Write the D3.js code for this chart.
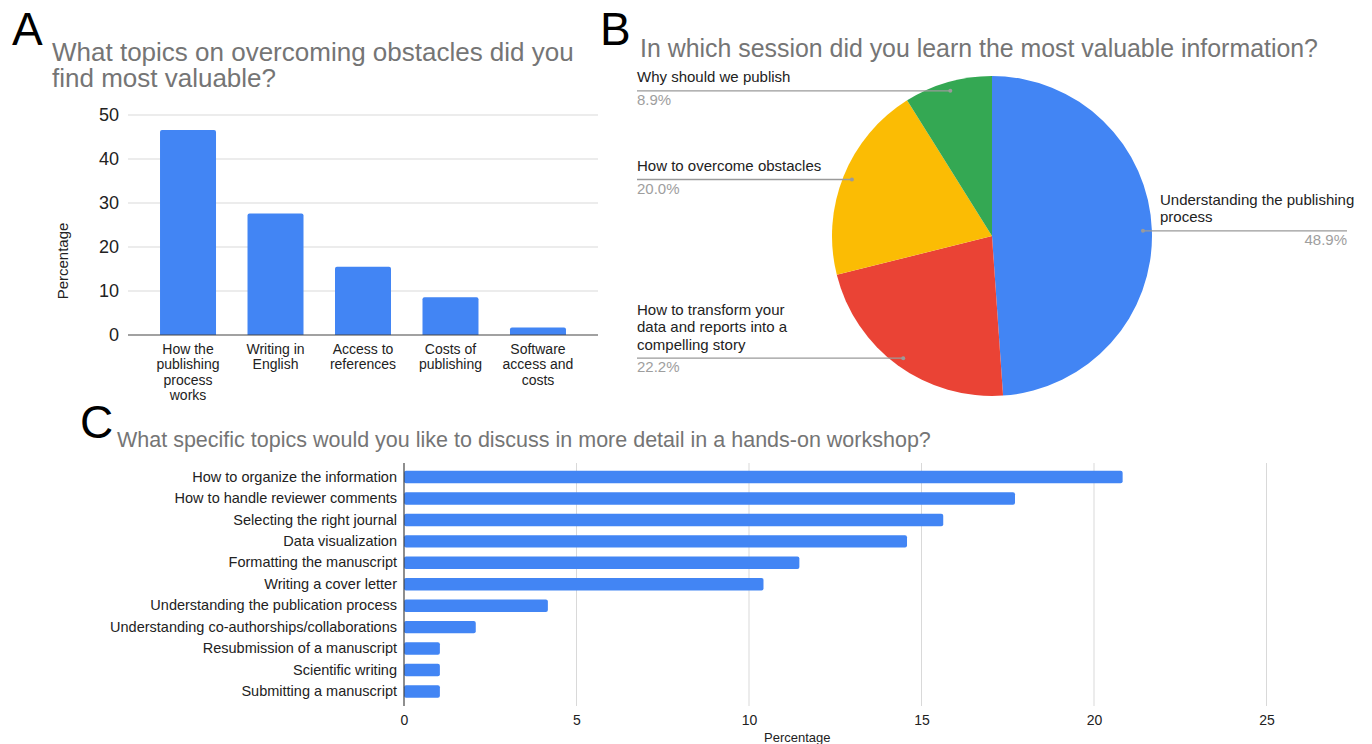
<!DOCTYPE html>
<html>
<head>
<meta charset="utf-8">
<script src="https://cdn.jsdelivr.net/npm/d3@7"></script>
<style>
  body { margin: 0; background: #fff; }
  svg { display: block; }
  text { font-family: Arial, "Liberation Sans", Helvetica, sans-serif; }
</style>
</head>
<body>
<svg id="fig" width="1372" height="744"></svg>
<script>
// ---- Panel A: obstacle topics (percentage of respondents)
const obstacleTopics = ["How the publishing process works", "Writing in English", "Access to references", "Costs of publishing", "Software access and costs"];
const obstacleLabelLines = [["How the", "publishing", "process", "works"], ["Writing in", "English"], ["Access to", "references"], ["Costs of", "publishing"], ["Software", "access and", "costs"]];
const obstaclePct = [46.6, 27.6, 15.5, 8.6, 1.7];
const obstacleTicks = [0, 10, 20, 30, 40, 50];

// ---- Panel B: most valuable session
const sessionNames = ["Understanding the publishing process", "How to transform your data and reports into a compelling story", "How to overcome obstacles", "Why should we publish"];
const sessionLabelLines = [["Understanding the publishing", "process"], ["How to transform your", "data and reports into a", "compelling story"], ["How to overcome obstacles"], ["Why should we publish"]];
const sessionPct = [48.9, 22.2, 20.0, 8.9];
const sessionColors = ["#4285F4", "#EA4335", "#FBBC04", "#34A853"];

// ---- Panel C: workshop topics
const workshopTopics = ["How to organize the information", "How to handle reviewer comments", "Selecting the right journal", "Data visualization", "Formatting the manuscript", "Writing a cover letter", "Understanding the publication process", "Understanding co-authorships/collaborations", "Resubmission of a manuscript", "Scientific writing", "Submitting a manuscript"];
const workshopPct = [20.83, 17.71, 15.63, 14.58, 11.46, 10.42, 4.17, 2.08, 1.04, 1.04, 1.04];
const workshopTicks = [0, 5, 10, 15, 20, 25];

const BLUE = "#4285F4";
const TITLE = "#757575";
const INK = "#222";
const GRID = "#d9d9d9";

const svg = d3.select("#fig");

// panel letters
[["A", 12, 45], ["B", 600, 45], ["C", 80, 438]].forEach(([t, x, y]) => {
  svg.append("text").attr("x", x).attr("y", y).attr("font-size", 46).attr("fill", "#000").text(t);
});

// ================= Panel A =================
{
  const g = svg.append("g");
  g.append("text").attr("x", 52).attr("y", 61).attr("font-size", 26).attr("fill", TITLE)
    .selectAll("tspan").data(["What topics on overcoming obstacles did you", "find most valuable?"]).join("tspan")
    .attr("x", 52).attr("dy", (d, i) => i ? 26 : 0).text(d => d);

  const x = d3.scaleBand().domain(obstacleTopics).range([128, 598]).paddingInner(0.36).paddingOuter(0.366);
  const y = d3.scaleLinear().domain([0, 50]).range([335, 115]);

  // gridlines
  g.append("g").selectAll("line").data(obstacleTicks.filter(t => t > 0)).join("line")
    .attr("x1", 128).attr("x2", 598).attr("y1", d => y(d)).attr("y2", d => y(d))
    .attr("stroke", GRID).attr("stroke-width", 1);

  // y axis labels
  const yAxis = d3.axisLeft(y).tickValues(obstacleTicks).tickSize(0).tickPadding(9);
  const ya = g.append("g").attr("transform", "translate(128,0)").call(yAxis);
  ya.select(".domain").remove();
  ya.selectAll("text").attr("font-size", 18).attr("fill", INK).attr("font-family", null);

  // bars
  g.append("g").selectAll("path").data(obstaclePct).join("path")
    .attr("fill", BLUE)
    .attr("d", (d, i) => {
      const x0 = x(obstacleTopics[i]), w = x.bandwidth(), y0 = y(d), y1 = y(0), r = 2;
      return `M${x0},${y1}V${y0 + r}Q${x0},${y0} ${x0 + r},${y0}H${x0 + w - r}Q${x0 + w},${y0} ${x0 + w},${y0 + r}V${y1}Z`;
    });

  // baseline
  g.append("line").attr("x1", 128).attr("x2", 598).attr("y1", y(0)).attr("y2", y(0))
    .attr("stroke", "#444").attr("stroke-width", 1.2);

  // category labels
  g.append("g").selectAll("text").data(obstacleTopics).join("text")
    .attr("text-anchor", "middle").attr("font-size", 14).attr("fill", INK)
    .each(function (d, i) {
      d3.select(this).selectAll("tspan").data(obstacleLabelLines[i]).join("tspan")
        .attr("x", x(d) + x.bandwidth() / 2).attr("y", (t, j) => 354 + j * 15.3).text(t => t);
    });

  g.append("text").attr("transform", "translate(68,261) rotate(-90)")
    .attr("text-anchor", "middle").attr("font-size", 15).attr("fill", INK).text("Percentage");
}

// ================= Panel B =================
{
  const g = svg.append("g");
  g.append("text").attr("x", 640).attr("y", 57).attr("font-size", 24.9).attr("fill", TITLE)
    .text("In which session did you learn the most valuable information?");

  const cx = 992, cy = 236, R = 160;
  const pie = d3.pie().sort(null).value(d => d)(sessionPct);
  const arc = d3.arc().innerRadius(0).outerRadius(R);
  const pg = g.append("g").attr("transform", `translate(${cx},${cy})`);
  pg.selectAll("path").data(pie).join("path").attr("d", arc).attr("fill", (d, i) => sessionColors[i]);

  const leftX = cx - R - 195, rightText = cx + R + 8, rightEnd = 1347;
  pie.forEach((p, i) => {
    const a = (p.startAngle + p.endAngle) / 2;
    const dx = cx + Math.sin(a) * R * 0.944;
    const dy = cy - Math.cos(a) * R * 0.944;
    const right = Math.sin(a) > 0;
    const lines = sessionLabelLines[i];
    g.append("line").attr("x1", dx).attr("y1", dy)
      .attr("x2", right ? rightEnd : leftX).attr("y2", dy)
      .attr("stroke", "#9a9a9a").attr("stroke-width", 1.3);
    g.append("circle").attr("cx", dx).attr("cy", dy).attr("r", 2).attr("fill", "#9a9a9a");
    const tx = right ? rightText : leftX;
    const t = g.append("text").attr("font-size", 15).attr("fill", INK);
    t.selectAll("tspan").data(lines).join("tspan")
      .attr("x", tx).attr("y", (s, j) => dy - 8.5 - (lines.length - 1 - j) * 17.5).text(s => s);
    g.append("text").attr("x", right ? rightEnd : leftX).attr("y", dy + 14)
      .attr("text-anchor", right ? "end" : "start")
      .attr("font-size", 15).attr("fill", "#9e9e9e")
      .text(d3.format(".1f")(sessionPct[i]) + "%");
  });
}

// ================= Panel C =================
{
  const g = svg.append("g");
  g.append("text").attr("x", 117).attr("y", 447).attr("font-size", 21.5).attr("fill", TITLE)
    .text("What specific topics would you like to discuss in more detail in a hands-on workshop?");

  const top = 463, bottom = 706;
  const x = d3.scaleLinear().domain([0, 25]).range([404, 1266.5]);
  const y = d3.scaleBand().domain(workshopTopics).range([466.3, 702.2]).paddingInner(0.42).paddingOuter(0.21);

  g.append("g").selectAll("line").data(workshopTicks.filter(t => t > 0)).join("line")
    .attr("x1", d => x(d)).attr("x2", d => x(d)).attr("y1", top).attr("y2", bottom)
    .attr("stroke", GRID).attr("stroke-width", 1);

  g.append("g").selectAll("rect").data(workshopPct).join("rect")
    .attr("x", x(0)).attr("y", (d, i) => y(workshopTopics[i]))
    .attr("width", d => x(d) - x(0)).attr("height", y.bandwidth())
    .attr("rx", 2).attr("fill", BLUE);

  g.append("line").attr("x1", x(0)).attr("x2", x(0)).attr("y1", top).attr("y2", bottom)
    .attr("stroke", "#444").attr("stroke-width", 1.2);

  const yAxis = d3.axisLeft(y).tickSize(0).tickPadding(7);
  const ya = g.append("g").attr("transform", `translate(${x(0)},0)`).call(yAxis);
  ya.select(".domain").remove();
  ya.selectAll("text").attr("font-size", 14.5).attr("fill", INK).attr("font-family", null);

  const xAxis = d3.axisBottom(x).tickValues(workshopTicks).tickSize(0).tickPadding(9);
  const xa = g.append("g").attr("transform", `translate(0,${bottom})`).call(xAxis);
  xa.select(".domain").remove();
  xa.selectAll("text").attr("font-size", 14).attr("fill", INK).attr("font-family", null);

  g.append("text").attr("x", (x(0) + x(25)) / 2 - 38).attr("y", 742).attr("text-anchor", "middle")
    .attr("font-size", 13).attr("fill", INK).text("Percentage");
}
</script>
</body>
</html>
